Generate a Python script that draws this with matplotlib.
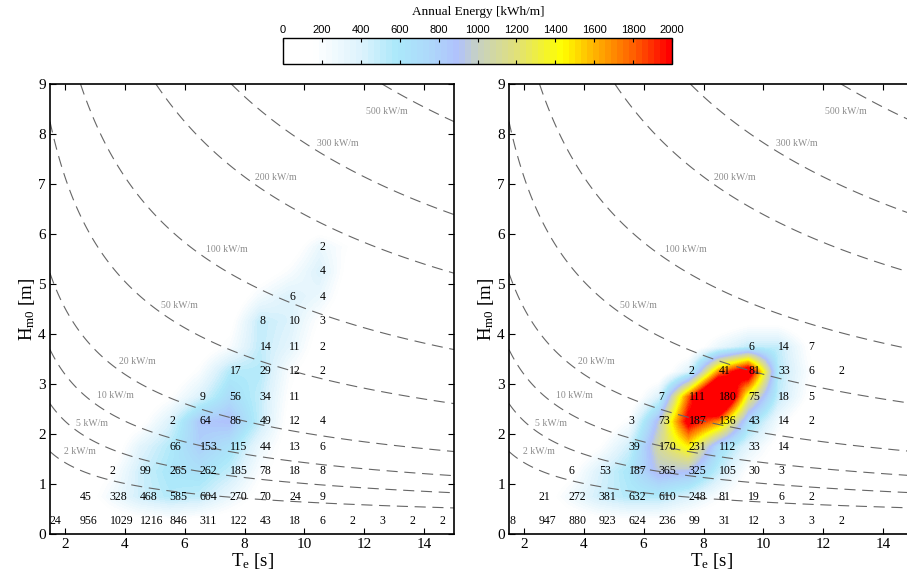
import numpy as np
import matplotlib
matplotlib.use('Agg')
from matplotlib import pyplot as plt
from matplotlib.colors import LinearSegmentedColormap, Normalize
from matplotlib.cm import ScalarMappable

# scatter table: Te bins (text position) and Hm0 bins
te_bins = [1.5, 2.5, 3.5, 4.5, 5.5, 6.5, 7.5, 8.5, 9.5, 10.5, 11.5, 12.5, 13.5, 14.5]
hs_bins = [0.25, 0.75, 1.25, 1.75, 2.25, 2.75, 3.25, 3.75, 4.25, 4.75, 5.25, 5.75, 6.25]

# hours of occurrence per sea state (0 = empty bin)
left_hours = [
    [24, 956, 1029, 1216, 846, 311, 122, 43, 18, 6, 2, 3, 2, 2],
    [0, 45, 328, 468, 585, 604, 270, 70, 24, 9, 0, 0, 0, 0],
    [0, 0, 2, 99, 265, 262, 185, 78, 18, 8, 0, 0, 0, 0],
    [0, 0, 0, 0, 66, 153, 115, 44, 13, 6, 0, 0, 0, 0],
    [0, 0, 0, 0, 2, 64, 86, 49, 12, 4, 0, 0, 0, 0],
    [0, 0, 0, 0, 0, 9, 56, 34, 11, 0, 0, 0, 0, 0],
    [0, 0, 0, 0, 0, 0, 17, 29, 12, 2, 0, 0, 0, 0],
    [0, 0, 0, 0, 0, 0, 0, 14, 11, 2, 0, 0, 0, 0],
    [0, 0, 0, 0, 0, 0, 0, 8, 10, 3, 0, 0, 0, 0],
    [0, 0, 0, 0, 0, 0, 0, 0, 6, 4, 0, 0, 0, 0],
    [0, 0, 0, 0, 0, 0, 0, 0, 0, 4, 0, 0, 0, 0],
    [0, 0, 0, 0, 0, 0, 0, 0, 0, 2, 0, 0, 0, 0],
]
right_hours = [
    [8, 947, 880, 923, 624, 236, 99, 31, 12, 3, 3, 2, 0, 0],
    [0, 21, 272, 381, 632, 610, 248, 81, 19, 6, 2, 0, 0, 0],
    [0, 0, 6, 53, 187, 365, 325, 105, 30, 3, 0, 0, 0, 0],
    [0, 0, 0, 0, 39, 170, 231, 112, 33, 14, 0, 0, 0, 0],
    [0, 0, 0, 0, 3, 73, 187, 136, 43, 14, 2, 0, 0, 0],
    [0, 0, 0, 0, 0, 7, 111, 180, 75, 18, 5, 0, 0, 0],
    [0, 0, 0, 0, 0, 0, 2, 41, 81, 33, 6, 2, 0, 0],
    [0, 0, 0, 0, 0, 0, 0, 0, 6, 14, 7, 0, 0, 0],
]

# annual energy [kWh/m] read from the colour field
left_energy = [
    [0, 20, 60, 100, 120, 100, 60, 20, 0, 0, 0, 0, 0, 0],
    [0, 30, 250, 450, 550, 500, 300, 100, 30, 0, 0, 0, 0, 0],
    [0, 0, 150, 450, 600, 650, 500, 200, 60, 20, 0, 0, 0, 0],
    [0, 0, 0, 350, 550, 800, 650, 300, 80, 30, 0, 0, 0, 0],
    [0, 0, 0, 100, 400, 850, 900, 500, 100, 30, 0, 0, 0, 0],
    [0, 0, 0, 0, 150, 400, 700, 500, 150, 0, 0, 0, 0, 0],
    [0, 0, 0, 0, 0, 200, 550, 550, 200, 30, 0, 0, 0, 0],
    [0, 0, 0, 0, 0, 50, 200, 500, 350, 80, 0, 0, 0, 0],
    [0, 0, 0, 0, 0, 0, 100, 500, 400, 150, 0, 0, 0, 0],
    [0, 0, 0, 0, 0, 0, 0, 250, 400, 300, 50, 0, 0, 0],
    [0, 0, 0, 0, 0, 0, 0, 50, 200, 400, 100, 0, 0, 0],
    [0, 0, 0, 0, 0, 0, 0, 0, 50, 300, 150, 0, 0, 0],
    [0, 0, 0, 0, 0, 0, 0, 0, 0, 0, 0, 0, 0, 0],
]
right_energy = [
    [0, 20, 60, 100, 130, 120, 60, 20, 0, 0, 0, 0, 0, 0],
    [0, 30, 250, 450, 550, 550, 400, 200, 50, 0, 0, 0, 0, 0],
    [0, 0, 100, 400, 600, 950, 900, 500, 150, 30, 0, 0, 0, 0],
    [0, 0, 0, 150, 450, 1100, 1450, 700, 350, 100, 0, 0, 0, 0],
    [0, 0, 0, 0, 200, 950, 2100, 1700, 700, 250, 0, 0, 0, 0],
    [0, 0, 0, 0, 0, 400, 1800, 3000, 1300, 500, 150, 0, 0, 0],
    [0, 0, 0, 0, 0, 0, 400, 1700, 2300, 550, 200, 0, 0, 0],
    [0, 0, 0, 0, 0, 0, 0, 300, 500, 500, 150, 0, 0, 0],
    [0, 0, 0, 0, 0, 0, 0, 0, 100, 100, 0, 0, 0, 0],
    [0, 0, 0, 0, 0, 0, 0, 0, 0, 0, 0, 0, 0, 0],
    [0, 0, 0, 0, 0, 0, 0, 0, 0, 0, 0, 0, 0, 0],
    [0, 0, 0, 0, 0, 0, 0, 0, 0, 0, 0, 0, 0, 0],
    [0, 0, 0, 0, 0, 0, 0, 0, 0, 0, 0, 0, 0, 0],
]

# iso-power lines, P = 0.49 Hm0^2 Te [kW/m]
power_levels = [2, 5, 10, 20, 50, 100, 200, 300, 500]
power_coef = 0.49
label_spots = {2: (2.5, 1.64), 5: (2.92, 2.2), 10: (3.67, 2.76), 20: (4.43, 3.46),
               50: (5.83, 4.58), 100: (7.42, 5.68), 200: (9.03, 7.12),
               300: (11.13, 7.82), 500: (12.77, 8.44)}

plt.rcParams['font.family'] = 'Liberation Serif'
plt.rcParams['mathtext.fontset'] = 'custom'
plt.rcParams['mathtext.rm'] = 'Liberation Serif'
plt.rcParams['mathtext.it'] = 'Liberation Serif:italic'

cmap = LinearSegmentedColormap.from_list('energy', [
    (0.0, (1, 1, 1)),
    (0.075, (1, 1, 1)),
    (0.2, (0.86, 0.95, 0.99)),
    (0.29, (0.67, 0.91, 0.98)),
    (0.37, (0.68, 0.85, 0.98)),
    (0.45, (0.69, 0.76, 0.99)),
    (0.5, (0.78, 0.82, 0.76)),
    (0.6, (0.88, 0.88, 0.48)),
    (0.72, (1.0, 1.0, 0.0)),
    (0.8, (1.0, 0.72, 0.0)),
    (0.9, (1.0, 0.4, 0.0)),
    (1.0, (1.0, 0.0, 0.0))], N=64)
cmap.set_over((1, 0, 0))
cmap.set_under((1, 1, 1))
norm = Normalize(0, 2000)

fig = plt.figure(figsize=(9.07, 5.76), dpi=100)
ax_left = fig.add_axes([50 / 907, 42 / 576, 404 / 907, 450 / 576])
ax_right = fig.add_axes([509 / 907, 42 / 576, 404 / 907, 450 / 576])

te_grid = np.linspace(1.5, 15, 200)
hs_grid = np.linspace(0, 9, 200)
TE, HS = np.meshgrid(te_grid, hs_grid)

for ax, hours, energy in [(ax_left, left_hours, left_energy), (ax_right, right_hours, right_energy)]:
    ax.imshow(np.array(energy, dtype=float), cmap=cmap, norm=norm, origin='lower',
              extent=[te_bins[0] - 0.5, te_bins[-1] + 0.5, hs_bins[0] - 0.25, hs_bins[-1] + 0.25],
              aspect='auto', interpolation='bilinear', zorder=1)
    ax.contour(TE, HS, power_coef * HS ** 2 * TE, levels=power_levels, colors='0.4',
               linewidths=0.8, linestyles=[(0, (10, 6))], zorder=2)
    for lev, (x, y) in label_spots.items():
        ax.text(x, y, f'{lev} kW/m', fontsize=7, color='0.55', ha='center', va='center', zorder=3)
    for j, row in enumerate(hours):
        for i, val in enumerate(row):
            if val:
                ax.text(te_bins[i], hs_bins[j], str(val), fontsize=8.5, ha='left', va='center',
                        clip_on=True, zorder=4)
    ax.set_xlim(1.5, 15)
    ax.set_ylim(0, 9)
    ax.set_xticks([2, 4, 6, 8, 10, 12, 14])
    ax.set_yticks(range(10))
    ax.tick_params(direction='in', top=True, right=True, length=4.5, width=0.8, labelsize=11, pad=3)
    for sp in ax.spines.values():
        sp.set_linewidth(1.2)
    ax.set_xlabel(r'T$_\mathrm{e}$ [s]', fontsize=13.5, labelpad=0)
    ax.set_ylabel(r'H$_\mathrm{m0}$ [m]', fontsize=13.5, labelpad=1)

cax = fig.add_axes([283 / 907, (576 - 64) / 576, 389 / 907, 26 / 576])
cb = fig.colorbar(ScalarMappable(norm=norm, cmap=cmap), cax=cax, orientation='horizontal',
                  ticks=range(0, 2001, 200))
cax.tick_params(direction='in', top=True, bottom=True, labeltop=True, labelbottom=False,
                length=3, width=0.8, labelsize=8, pad=2)
for lab in cax.get_xticklabels():
    lab.set_family(['Liberation Sans Narrow', 'Liberation Sans'])
cb.outline.set_linewidth(1.0)
fig.text(478 / 907, 1 - 12 / 576, 'Annual Energy [kWh/m]', fontsize=9.5, ha='center', va='center')

plt.savefig('out.png', dpi=100)
